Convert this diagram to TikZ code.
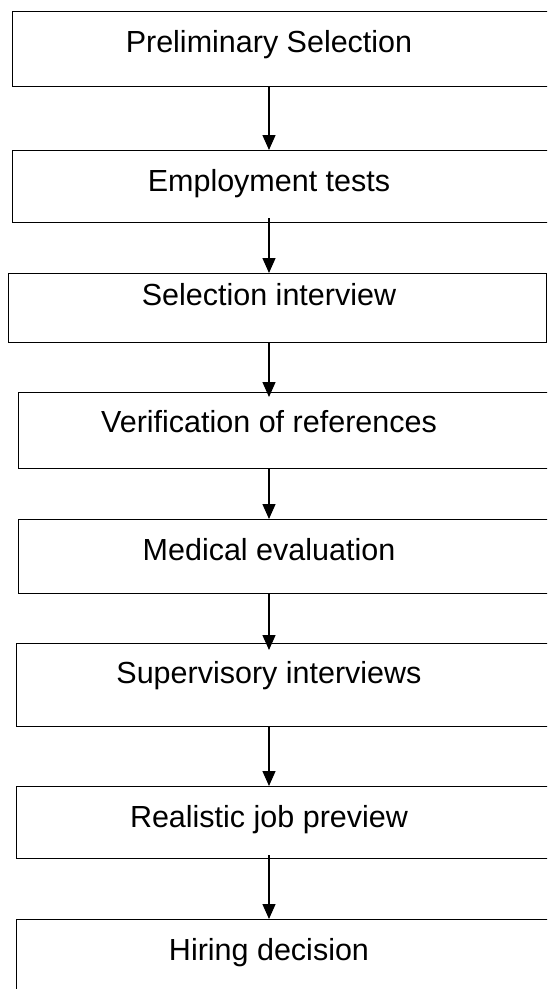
\documentclass[tikz,border=0pt]{standalone}
\usepackage{fontspec}
\setmainfont{Liberation Sans}
\usetikzlibrary{arrows.meta}
\tikzset{
  box/.style={draw=black, line width=1.4pt, rectangle, anchor=north west, inner sep=0pt, fill=none},
  lbl/.style={anchor=base, inner sep=0pt, font=\fontsize{30.5}{36}\selectfont},
  flow/.style={draw=black, line width=1.3pt, -{Triangle[width=13pt,length=15pt]}}
}
\begin{document}
\begin{tikzpicture}[x=1pt,y=-1pt]
\useasboundingbox (0,0) rectangle (547,989);
\clip (0,0) rectangle (547,989);
% boxes
\node[box, minimum width=548pt, minimum height=75pt] (b1) at (12,11) {};
\node[box, minimum width=548pt, minimum height=72pt] (b2) at (12,150) {};
\node[box, minimum width=538pt, minimum height=69pt] (b3) at (8,273) {};
\node[box, minimum width=545pt, minimum height=76pt] (b4) at (18,392) {};
\node[box, minimum width=545pt, minimum height=74pt] (b5) at (18,519) {};
\node[box, minimum width=547pt, minimum height=83pt] (b6) at (16,643) {};
\node[box, minimum width=547pt, minimum height=72pt] (b7) at (16,786) {};
\node[box, minimum width=547pt, minimum height=90pt] (b8) at (16,919) {};
% labels
\node[lbl] (t1) at (269,52) {Preliminary Selection};
\node[lbl] (t2) at (269,191) {Employment tests};
\node[lbl] (t3) at (269,305) {Selection interview};
\node[lbl] (t4) at (269,432) {Verification of references};
\node[lbl] (t5) at (269,560) {Medical evaluation};
\node[lbl] (t6) at (269,683) {Supervisory interviews};
\node[lbl] (t7) at (269,827) {Realistic job preview};
\node[lbl] (t8) at (269,960) {Hiring decision};
% arrows
\coordinate (a1s) at (269,86);  \coordinate (a1e) at (269,150);
\coordinate (a2s) at (269,218); \coordinate (a2e) at (269,273);
\coordinate (a3s) at (269,342); \coordinate (a3e) at (269,397);
\coordinate (a4s) at (269,468); \coordinate (a4e) at (269,519);
\coordinate (a5s) at (269,593); \coordinate (a5e) at (269,650);
\coordinate (a6s) at (269,726); \coordinate (a6e) at (269,786);
\coordinate (a7s) at (269,855); \coordinate (a7e) at (269,919);
\draw[flow] (a1s) -- (a1e);
\draw[flow] (a2s) -- (a2e);
\draw[flow] (a3s) -- (a3e);
\draw[flow] (a4s) -- (a4e);
\draw[flow] (a5s) -- (a5e);
\draw[flow] (a6s) -- (a6e);
\draw[flow] (a7s) -- (a7e);
\end{tikzpicture}
\end{document}
